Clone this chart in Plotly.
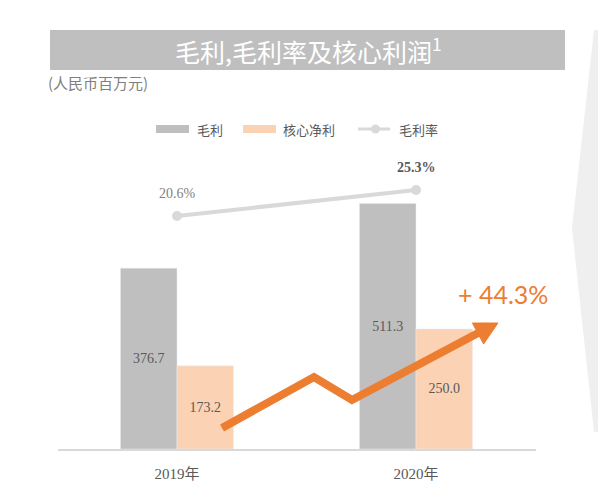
import plotly.graph_objects as go

# ---- data ----
categories = ["2019年", "2020年"]
gross_profit = [376.7, 511.3]
core_net_profit = [173.2, 250.0]
gross_margin = [20.6, 25.3]
growth_label = "+ 44.3%"

W, H = 600, 498
def X(px):
    return px / W
def Y(py):
    return 1 - py / H

GRAY = "#bfbfbf"
PEACH = "#fbd3b4"
ORANGE = "#ed7d31"
LINE = "#d9d9d9"
TXT = "#595959"
SERIF = "Liberation Serif, Noto Sans CJK SC"
CJK = "Noto Sans CJK SC"

fig = go.Figure()
fig.add_trace(go.Bar(
    x=categories, y=gross_profit, name="毛利", marker_color=GRAY,
    text=[f"{v:.1f}" for v in gross_profit], textposition="inside",
    insidetextanchor="middle", textfont=dict(family=SERIF, size=14, color=TXT),
    showlegend=False, xaxis="x", yaxis="y"))
fig.add_trace(go.Bar(
    x=categories, y=core_net_profit, name="核心净利", marker_color=PEACH,
    text=[f"{v:.1f}" for v in core_net_profit], textposition="inside",
    insidetextanchor="middle", textfont=dict(family=SERIF, size=14, color=TXT),
    showlegend=False, xaxis="x", yaxis="y"))
fig.add_trace(go.Scatter(
    x=categories, y=gross_margin, name="毛利率", mode="lines+markers",
    line=dict(color=LINE, width=4), marker=dict(color=LINE, size=10),
    showlegend=False, xaxis="x", yaxis="y2"))

annotations = []
for i, (c, v) in enumerate(zip(categories, gross_margin)):
    annotations.append(dict(
        x=c, y=v, xref="x", yref="y2", yshift=23, showarrow=False,
        xanchor="center", yanchor="middle",
        text=f"<b>{v:.1f}%</b>" if i == 1 else f"{v:.1f}%",
        font=dict(family=SERIF, size=14, color="#7f7f7f" if i == 0 else TXT)))

def note(px, py, text, font, xanchor="center"):
    annotations.append(dict(x=X(px), y=Y(py), xref="paper", yref="paper",
                            xanchor=xanchor, yanchor="middle", showarrow=False,
                            text=text, font=font))

# title band
shapes = [dict(type="rect", xref="paper", yref="paper",
               x0=X(50), x1=X(565), y0=Y(70), y1=Y(30),
               fillcolor="#bfbfbf", line=dict(width=0), layer="below")]
note(308, 50, "毛利,毛利率及核心利润<sup>1</sup>",
     dict(family=CJK, size=25, color="white"))
note(46, 82, "(人民币百万元)", dict(family=CJK, size=15, color="#7f7f7f"), "left")

# right decoration
shapes.append(dict(type="path", xref="paper", yref="paper",
                   path=f"M {X(594)},{Y(30)} L {X(572)},{Y(228)} L {X(594)},{Y(432)} "
                        f"L {X(598)},{Y(432)} L {X(598)},{Y(30)} Z",
                   fillcolor="#efefef", line=dict(width=0), layer="below"))

# custom legend
shapes.append(dict(type="rect", xref="paper", yref="paper",
                   x0=X(156), x1=X(189), y0=Y(133), y1=Y(125),
                   fillcolor=GRAY, line=dict(width=0)))
shapes.append(dict(type="rect", xref="paper", yref="paper",
                   x0=X(243), x1=X(276), y0=Y(133), y1=Y(125),
                   fillcolor=PEACH, line=dict(width=0)))
shapes.append(dict(type="line", xref="paper", yref="paper",
                   x0=X(358), x1=X(390), y0=Y(129), y1=Y(129),
                   line=dict(color=LINE, width=3)))
shapes.append(dict(type="circle", xref="paper", yref="paper",
                   x0=X(371), x1=X(380), y0=Y(133.5), y1=Y(124.5),
                   fillcolor=LINE, line=dict(width=0)))
for px, t in [(195, "毛利"), (281, "核心净利"), (397, "毛利率")]:
    note(px, 129, t, dict(family=CJK, size=13, color=TXT), "left")

# orange zigzag growth arrow
pts = [(222, 428), (314, 377), (352, 400), (480, 332)]
path = "M " + " L ".join(f"{X(a)},{Y(b)}" for a, b in pts)
shapes.append(dict(type="path", xref="paper", yref="paper", path=path,
                   line=dict(color=ORANGE, width=8)))
head = [(498, 323), (483.6, 344), (472.4, 323)]
shapes.append(dict(type="path", xref="paper", yref="paper",
                   path="M " + " L ".join(f"{X(a)},{Y(b)}" for a, b in head) + " Z",
                   fillcolor=ORANGE, line=dict(color=ORANGE, width=1)))
note(502.5, 294, growth_label, dict(family="Lato", size=25, color=ORANGE))

fig.update_layout(
    width=W, height=H, margin=dict(l=0, r=0, t=0, b=0),
    paper_bgcolor="white", plot_bgcolor="white",
    barmode="group", bargap=0.527, bargroupgap=0,
    xaxis=dict(domain=[57.5 / W, 535.5 / W], type="category", range=[-0.5, 1.5],
               showline=True, linecolor="#d9d9d9", linewidth=1.5,
               showgrid=False, zeroline=False, ticks="", ticklabelstandoff=10,
               tickfont=dict(family=SERIF, size=15, color=TXT)),
    yaxis=dict(domain=[49 / H, 398 / H], range=[0, 727], visible=False),
    yaxis2=dict(domain=[49 / H, 398 / H], range=[-21.52, 41.57], overlaying="y",
                visible=False),
    shapes=shapes, annotations=annotations, showlegend=False,
)

fig.write_html("out.html")
